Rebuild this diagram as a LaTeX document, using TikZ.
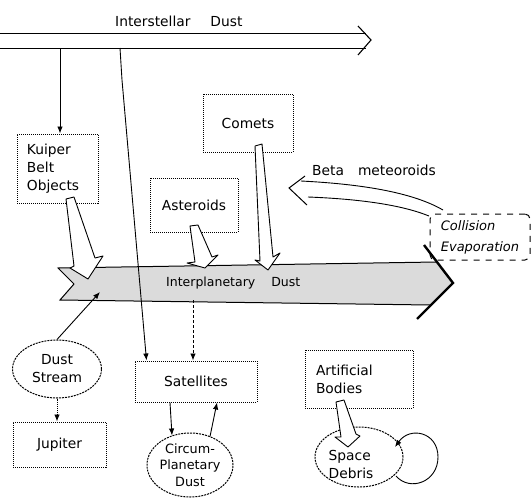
\documentclass[tikz,border=0pt]{standalone}
\usepackage{fontspec}
\setmainfont{DejaVu Sans}
\usetikzlibrary{shapes.geometric,arrows.meta,calc}
\begin{document}
\begin{tikzpicture}[x=1pt,y=-1pt,
  every node/.style={font=\fontsize{13.8}{18}\selectfont, inner sep=0pt},
  dbox/.style={draw, densely dotted, line width=1pt, rectangle, fill=white},
  dell/.style={draw, dash pattern=on 2pt off 1pt, line width=1pt, ellipse, fill=white},
  conn/.style={line width=0.9pt, -{Latex[length=7pt,width=5.5pt]}},
  hollow/.style={draw, line width=0.9pt, fill=white, line join=round},
  bandline/.style={line width=1pt},
  ]
\useasboundingbox (0,0) rectangle (532,498);

% Interstellar dust open arrow
\draw[bandline] (0,33) -- (366,33);
\draw[bandline] (0,48) -- (366,48);
\draw[line width=1.1pt, line join=miter] (358,26) -- (371,40) -- (358,55);
\node (tIS) [anchor=west] at (115,21) {Interstellar\hspace{20pt}Dust};

% Interplanetary dust band
\fill[black!14] (58,268) -- (436,262) -- (453,283) -- (430,305) -- (60,300) -- (74,284) -- cycle;
\draw[bandline] (74,284) -- (58,268) -- (436,262);
\draw[bandline] (74,284) -- (60,300) -- (430,305);
\draw[line width=2.4pt, line join=miter] (424,245) -- (453,283) -- (417,319);
\node (tIP) [anchor=west, font=\fontsize{12.5}{16}\selectfont] at (166,283) {Interplanetary\hspace{16pt}Dust};

% boxes and ellipses
\node[dbox, text width=61pt, inner xsep=10pt, minimum height=69pt, align=left] (kuiper) at (57.5,168.5) {Kuiper\\Belt\\Objects};
\node[dbox, minimum width=90pt, minimum height=58pt] (comets) at (248,123) {Comets};
\node[dbox, minimum width=88pt, minimum height=54pt] (aster) at (194,205) {Asteroids};
\node[draw, dash pattern=on 6pt off 6pt, line width=1pt, rounded corners=5pt, minimum width=100pt, minimum height=46pt, align=left, font=\fontsize{13}{21}\selectfont\itshape] (coll) at (480,237) {Collision\\Evaporation};

\node[dell, minimum width=89pt, minimum height=58pt, align=center] (stream) at (57,369) {Dust\\Stream};
\node[dbox, minimum width=93pt, minimum height=45pt] (jup) at (59.5,444.5) {Jupiter};
\node[dbox, minimum width=122pt, minimum height=41pt] (sat) at (196,381.5) {Satellites};
\node[dell, minimum width=86pt, minimum height=64pt, align=center, font=\fontsize{12.8}{16.5}\selectfont] (circ) at (190,465) {Circum-\\Planetary\\Dust};
\node[dbox, text width=86pt, inner xsep=11pt, minimum height=58pt, align=left] (art) at (359,379) {Artificial\\Bodies};
\node[dell, minimum width=88pt, minimum height=60pt] (debris) at (359,457) {};
\node[align=left] (debrisT) at (351,464) {Space\\Debris};

% connectors from interstellar dust
\coordinate (isK) at (60,48);
\draw[conn] (isK) -- (isK |- kuiper.north);
\coordinate (isS) at (120,48);
\coordinate (isB) at (122,80);
\draw[conn] (isS) -- (isB) -- ([xshift=12pt]sat.north west);

% band to satellites
\coordinate (bandB) at (193,300);
\draw[conn, densely dashed] (bandB) -- (bandB |- sat.north);

% dust stream
\coordinate (bandS) at (100,292);
\draw[conn] (stream.north) -- (bandS);
\draw[conn, densely dotted] (stream.south) -- (stream.south |- jup.north);

% satellites <-> circum-planetary dust
\draw[conn] ([xshift=-26pt]sat.south) -- ([xshift=-18pt,yshift=-3pt]circ.north);
\draw[conn] ([xshift=20pt,yshift=-4pt]circ.north) -- ([xshift=21pt]sat.south);

% hollow block arrows into the band
\draw[hollow] (66,199) -- (74,197) -- (95,258) -- (103,256) -- (88,279) -- (70,268) -- (74,266) -- cycle;
\draw[hollow] (190,226) -- (198,225) -- (212,257) -- (218,255) -- (205,268) -- (187,263) -- (195,262) -- cycle;
\draw[hollow] (255,146) -- (262,144) -- (273,257) -- (280,253) -- (268,270) -- (255,260) -- (260,261) -- cycle;
\draw[hollow] (336,402) -- (344,400) -- (356,434) -- (360,436) -- (348,447) -- (335,437) -- (341,437) -- cycle;

% space debris loop
\coordinate (lpA) at (396,476);
\coordinate (lpB) at (395,447);
\draw[conn] (lpA) .. controls (410,492) and (438,482) .. (438,457) .. controls (438,432) and (410,426) .. (lpB);

% beta meteoroids curved open arrow
\coordinate (btip) at (289,188);
\draw[line width=0.9pt] (301,181) .. controls (360,184) and (412,192) .. (443,210);
\draw[line width=0.9pt] (308,197) .. controls (360,199) and (402,205) .. (429,216);
\draw[line width=1pt, line join=miter] (305,176) -- (btip) -- (307,205);
\node (tBeta) [anchor=west] at (312,170) {Beta\hspace{14pt}meteoroids};
\end{tikzpicture}
\end{document}
